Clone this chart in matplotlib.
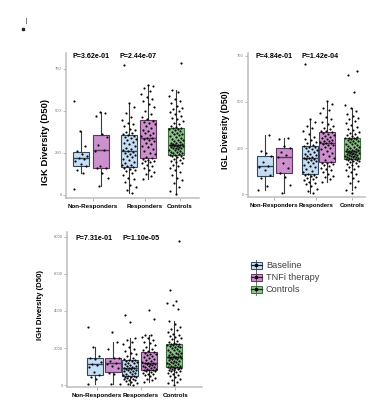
import numpy as np
import matplotlib
matplotlib.use("Agg")
import matplotlib.pyplot as plt
from matplotlib.patches import Rectangle

W, H = 375, 404

groups = ['Non-Responders', 'Responders', 'Controls']
legend_labels = ['Baseline', 'TNFi therapy', 'Controls']
fills = ['#c6def4', '#cc90cc', '#8cc48c']
edges = ['#34485e', '#5e3560', '#3f6b3f']
color_idx = [0, 1, 0, 1, 2]

# ---- IGK diversity (D50)
igk_nr_base = [38, 128, 150, 170, 185, 205, 215, 222, 232, 245, 262, 290, 380, 560]
igk_nr_tnfi = [52, 100, 130, 158, 162, 175, 262, 270, 300, 345, 360, 470, 485, 492]
igk_r_base = [10, 30, 45, 62, 80, 95, 104, 121, 130, 141, 150, 154, 161, 165,
              170, 176, 181, 190, 199, 206, 214, 226, 230, 238, 244, 251, 255,
              259,
              266, 271, 281, 290, 301, 309, 318, 326, 331, 340, 346, 350, 355,
              361, 367, 376, 386, 394, 410, 421, 431, 446, 463, 489, 521, 545, 775]
igk_r_tnfi = [98, 110, 126, 139, 151, 160, 171, 180, 189, 196, 201, 204, 211, 214,
              221, 228, 241, 251, 263, 274, 286, 294, 305, 311, 321, 327, 333,
              337,
              342, 351, 357, 366, 371, 381, 389, 401, 409, 421, 428, 435, 442,
              451, 464, 481, 499, 521, 539, 561, 569, 581, 601, 619, 636, 648, 657]
igk_ctrl = [6, 25, 50, 71, 90, 104, 121, 135, 148, 159, 171, 180, 188, 196, 202, 211,
            215, 221, 224, 230, 234, 237,
            240, 243, 247, 250, 254, 257, 262, 266, 270, 273, 277, 279, 282, 285, 287,
            289, 291, 293, 295, 296, 298, 299,
            300,
            302, 305, 309, 312, 316, 321, 325, 330, 334, 341, 345, 350, 356, 360, 365,
            371, 375, 380, 384, 390, 394, 397,
            400, 406, 410, 421, 430, 441, 450, 459, 471, 480, 491, 500, 511, 519, 531,
            545, 561, 574, 590, 611, 627, 785]

# ---- IGL diversity (D50)
igl_nr_base = [22, 45, 88, 105, 128, 148, 155, 172, 205, 222, 232, 320]
igl_nr_tnfi = [8, 50, 95, 112, 140, 170, 200, 212, 230, 248, 262, 298, 305]
igl_r_base = [7, 18, 30, 42, 52, 60, 68, 75, 82, 88, 94, 99, 103, 106,
              110, 118, 126, 135, 145, 152, 160, 166, 172, 178, 184, 188, 191,
              194,
              198, 202, 206, 210, 215, 220, 226, 232, 238, 244, 249, 254, 258,
              262, 268, 275, 283, 292, 300, 312, 325, 340, 358, 372, 390, 407, 705]
igl_r_tnfi = [67, 80, 92, 100, 110, 120, 128, 136, 144, 150, 156, 162, 166, 170,
              176, 184, 195, 205, 215, 225, 235, 245, 252, 258, 264, 269, 272,
              275,
              278, 282, 286, 290, 295, 300, 305, 310, 316, 322, 327, 332, 336,
              340, 345, 352, 360, 370, 380, 392, 405, 420, 438, 455, 470, 490, 505]
igl_ctrl = [7, 22, 40, 58, 72, 85, 98, 110, 120, 130, 138, 146, 152, 158, 164, 170,
            174, 178, 182, 185, 187, 189,
            191, 193, 195, 197, 199, 201, 203, 205, 207, 209, 211, 213, 215, 217, 219,
            221, 223, 225, 227, 229, 230, 232,
            233,
            235, 238, 241, 244, 247, 250, 254, 258, 262, 266, 270, 274, 278, 282, 286,
            290, 294, 298, 301, 304, 306, 307,
            310, 314, 318, 324, 330, 338, 346, 355, 365, 375, 385, 395, 405, 415, 425,
            435, 450, 465, 485, 556, 646, 668]

# ---- IGH diversity (D50)
igh_nr_base = [52, 300, 450, 520, 700, 1000, 1100, 1160, 1250, 1400, 1450, 1550, 2030, 3150]
igh_nr_tnfi = [30, 80, 600, 650, 900, 1050, 1150, 1200, 1300, 1450, 1480, 1950, 2350, 2870]
igh_r_base = [20, 60, 110, 160, 210, 250, 290, 320, 350, 380, 410, 430, 450, 465,
              490, 530, 570, 610, 650, 690, 730, 770, 800, 830, 860, 880, 895,
              904,
              930, 970, 1010, 1050, 1090, 1130, 1170, 1210, 1250, 1280, 1310, 1335, 1350,
              1380, 1450, 1550, 1650, 1750, 1850, 1950, 2050, 2200, 2350, 2450, 2550, 3390, 3800]
igh_r_tnfi = [174, 250, 330, 400, 460, 520, 570, 620, 660, 700, 740, 770, 795, 812,
              830, 860, 890, 920, 950, 980, 1010, 1040, 1080, 1110, 1140, 1160, 1175,
              1183,
              1200, 1240, 1290, 1340, 1400, 1450, 1500, 1550, 1600, 1650, 1700, 1740, 1780,
              1820, 1880, 1950, 2050, 2150, 2250, 2350, 2450, 2550, 2620, 2680, 2700, 3550, 4050]
igh_ctrl = [0, 90, 180, 270, 350, 420, 480, 540, 590, 640, 690, 730, 770, 800, 830, 860,
            880, 900, 915, 930, 942, 952,
            965, 990, 1020, 1050, 1080, 1110, 1140, 1170, 1200, 1230, 1260, 1290, 1320,
            1350, 1380, 1410, 1435, 1455, 1475, 1490, 1500, 1508,
            1513,
            1530, 1560, 1590, 1620, 1650, 1680, 1710, 1750, 1790, 1830, 1870, 1910, 1950,
            1990, 2030, 2070, 2100, 2130, 2160, 2180, 2195, 2205,
            2230, 2280, 2340, 2400, 2460, 2520, 2580, 2640, 2700, 2780, 2860, 2950, 3050,
            3150, 3300, 3480, 4100, 4300, 4450, 4550, 5150, 7800]

igk_pvals = ['P=3.62e-01', 'P=2.44e-07']
igl_pvals = ['P=4.84e-01', 'P=1.42e-04']
igh_pvals = ['P=7.31e-01', 'P=1.10e-05']

FONT = 'Liberation Sans'

fig = plt.figure(figsize=(W / 100, H / 100), dpi=100)
over = fig.add_axes([0, 0, 1, 1], zorder=10)
over.set_xlim(0, W)
over.set_ylim(H, 0)
over.axis('off')
over.patch.set_alpha(0)


def draw_panel(rect, ylim, yticks, ytlabels, pos, values, lab_pos, ylabel, ylab_xy,
               ylab_size, pvals, p_x, p_y, xl_size):
    l, t, r, b = rect
    ax = fig.add_axes([l / W, 1 - b / H, (r - l) / W, (b - t) / H])
    bp = ax.boxplot(values, positions=pos, widths=16, patch_artist=True,
                    showfliers=False, whis=1.5, manage_ticks=False,
                    whiskerprops=dict(color='#3a3a3a', lw=0.8),
                    capprops=dict(lw=0),
                    medianprops=dict(lw=1.0))
    for k, ci in enumerate(color_idx):
        bp['boxes'][k].set_facecolor(fills[ci])
        bp['boxes'][k].set_edgecolor(edges[ci])
        bp['boxes'][k].set_linewidth(0.8)
        bp['medians'][k].set_color(edges[ci])
    for i, (p, v) in enumerate(zip(pos, values)):
        k = np.arange(len(v))
        jit = ((k * 0.618034 + i * 0.37) % 1 - 0.5) * 14
        ax.scatter(p + jit, v, s=2.4, color='black', lw=0, zorder=3)

    ax.set_xlim(0, r - l)
    ax.set_ylim(*ylim)
    ax.set_yticks(yticks)
    ax.set_yticklabels(ytlabels, fontsize=3, color='#777777', family=FONT)
    ax.set_xticks(lab_pos)
    ax.set_xticklabels(groups, fontsize=xl_size, fontweight='bold', family=FONT)
    ax.tick_params(axis='y', length=2, width=0.5, color='#999999', pad=1)
    ax.tick_params(axis='x', length=2, width=0.5, color='#999999', pad=2)
    for s in ['top', 'right']:
        ax.spines[s].set_visible(False)
    for s in ['left', 'bottom']:
        ax.spines[s].set_color('#bdbdbd')
        ax.spines[s].set_linewidth(1.1)
    ax.patch.set_alpha(0)

    over.text(ylab_xy[0], ylab_xy[1], ylabel, rotation=90, ha='center', va='center',
              fontsize=ylab_size, fontweight='bold', family=FONT)
    for px, txt in zip(p_x, pvals):
        over.text(px, p_y, txt, ha='center', va='center', fontsize=5.1,
                  fontweight='bold', family=FONT)
    return ax


draw_panel((66, 53, 199, 198), (-18, 845), [0, 250, 500, 750], ['0', '250', '500', '750'],
           [15, 35, 63, 82, 110],
           [igk_nr_base, igk_nr_tnfi, igk_r_base, igk_r_tnfi, igk_ctrl],
           [27, 79, 114], 'IGK Diversity (D50)', (45, 142), 6.8, igk_pvals,
           [91, 138.5], 57, 4.5)

draw_panel((248, 53, 365, 197), (-16, 766), [0, 250, 500, 750], ['0', '250', '500', '750'],
           [17, 35.5, 62, 79, 104],
           [igl_nr_base, igl_nr_tnfi, igl_r_base, igl_r_tnfi, igl_ctrl],
           [26, 68, 104], 'IGL Diversity (D50)', (226, 130), 6.3, igl_pvals,
           [274, 320.5], 57, 4.3)

draw_panel((67, 232, 202, 387), (-108, 8270), [0, 2000, 4000, 6000, 8000],
           ['0', '2000', '4000', '6000', '8000'],
           [27.5, 46, 63, 82, 107],
           [igh_nr_base, igh_nr_tnfi, igh_r_base, igh_r_tnfi, igh_ctrl],
           [30, 73.5, 108.5], 'IGH Diversity (D50)', (41, 305), 5.6, igh_pvals,
           [94.5, 141.5], 239, 4.5)

# legend
for j, (lab, y) in enumerate(zip(legend_labels, [265, 277, 289])):
    over.plot([256, 256], [y - 5.5, y + 5.5], color=edges[j], lw=0.6)
    over.add_patch(Rectangle((250.5, y - 3.5), 11, 7, facecolor=fills[j],
                             edgecolor=edges[j], lw=0.7))
    over.plot([250.5, 261.5], [y, y], color='#222222', lw=0.9)
    over.plot([256], [y], 'o', color='black', ms=1.6)
    over.text(266, y, lab, ha='left', va='center', fontsize=6.6, color='#404040',
              family=FONT)

# small stray marks at the top left
over.plot([25.5, 25.5], [18, 23], color='#777777', lw=0.7)
over.plot([22.8], [29], 's', color='#222222', ms=1.8)

fig.savefig('out.png', dpi=100)
